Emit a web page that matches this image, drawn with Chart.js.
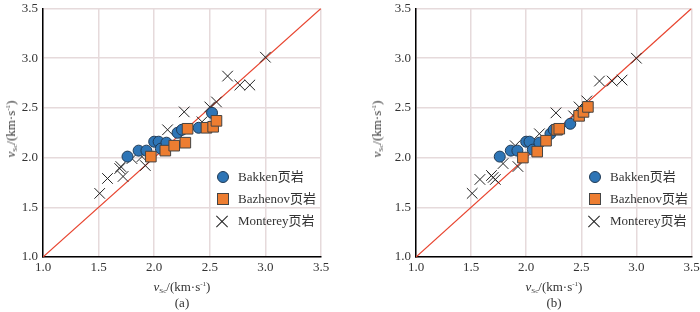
<!DOCTYPE html>
<html lang="zh">
<head>
<meta charset="UTF-8">
<script src="https://cdn.jsdelivr.net/npm/chart.js"></script>
<title>vS</title>
<style>
  body { margin: 0; background: #fff; }
  #wrap { position: relative; width: 700px; height: 312px; overflow: hidden;
          font-family: "Liberation Serif", "Noto Sans CJK SC", serif; color: #333; }
  .pane { position: absolute; top: 0; width: 350px; height: 312px; }
  .pane canvas { position: absolute; left: 0; top: 0; }
  .xt, .cap { position: absolute; font-size: 13px; white-space: nowrap; transform: translateX(-50%); }
  .yt { position: absolute; font-size: 13px; white-space: nowrap; transform: translate(-50%, -50%) rotate(-90deg); }
  sub { font-size: 7px; vertical-align: -2px; }
  sup { font-size: 7px; vertical-align: 5px; }
  i { font-style: italic; }
  .leg { position: absolute; font-size: 13px; }
  .leg div { position: relative; height: 22px; line-height: 22px; padding-left: 22px; }
  .mk { position: absolute; left: 0; top: 5px; }
  .c { width: 10px; height: 10px; border-radius: 50%; background: #2E75B6; border: 1px solid #203a55; left: 1px; }
  .s { width: 10px; height: 10px; background: #ED7D31; border: 1px solid #444; left: 1px; }
  .x { width: 12px; height: 12px; left: 0; top: 5px; }
  .x:before, .x:after { content: ""; position: absolute; left: -2px; top: 5.5px; width: 16px; height: 1px; background: #222; }
  .x:before { transform: rotate(45deg); }
  .x:after { transform: rotate(-45deg); }
</style>
</head>
<body>
<div id="wrap">
  <div class="pane" style="left:0">
    <canvas id="chartA" width="350" height="312"></canvas>
    <div class="yt" style="left:11px; top:129px"><i>v</i><sub>Sc</sub>/(km·s<sup>-1</sup>)</div>
    <div class="xt" style="left:182px; top:279px"><i>v</i><sub>Sc</sub>/(km·s<sup>-1</sup>)</div>
    <div class="cap" style="left:182px; top:295px">(a)</div>
    <div class="leg" style="left:216px; top:166px">
      <div><span class="mk c"></span>Bakken页岩</div>
      <div><span class="mk s"></span>Bazhenov页岩</div>
      <div><span class="mk x"></span>Monterey页岩</div>
    </div>
  </div>
  <div class="pane" style="left:350px">
    <canvas id="chartB" width="350" height="312"></canvas>
    <div class="yt" style="left:27px; top:129px"><i>v</i><sub>Sc</sub>/(km·s<sup>-1</sup>)</div>
    <div class="xt" style="left:204px; top:279px"><i>v</i><sub>Sc</sub>/(km·s<sup>-1</sup>)</div>
    <div class="cap" style="left:204px; top:295px">(b)</div>
    <div class="leg" style="left:238px; top:166px">
      <div><span class="mk c"></span>Bakken页岩</div>
      <div><span class="mk s"></span>Bazhenov页岩</div>
      <div><span class="mk x"></span>Monterey页岩</div>
    </div>
  </div>
</div>

<script>
// axis range and ticks
var axisMin = 1.0;
var axisMax = 3.5;
var tickStep = 0.5;
var seriesNames = ['Bakken页岩', 'Bazhenov页岩', 'Monterey页岩'];

// panel (a)
var aBakkenX = [1.76, 1.86, 1.93, 2.00, 2.04, 2.06, 2.11, 2.21, 2.25, 2.40, 2.52];
var aBakkenY = [2.01, 2.07, 2.07, 2.16, 2.16, 2.09, 2.15, 2.25, 2.28, 2.30, 2.45];
var aBazhenovX = [1.97, 2.10, 2.18, 2.28, 2.30, 2.47, 2.53, 2.56];
var aBazhenovY = [2.01, 2.07, 2.12, 2.15, 2.29, 2.30, 2.31, 2.37];
var aMontereyX = [1.51, 1.58, 1.69, 1.70, 1.72, 1.80, 1.89, 1.92, 2.12, 2.27, 2.43, 2.50, 2.56, 2.66, 2.77, 2.86, 3.00];
var aMontereyY = [1.64, 1.79, 1.89, 1.91, 1.81, 1.99, 2.01, 1.92, 2.28, 2.46, 2.36, 2.51, 2.56, 2.82, 2.73, 2.73, 3.01];

// panel (b)
var bBakkenX = [1.76, 1.86, 1.92, 2.00, 2.03, 2.06, 2.12, 2.22, 2.25, 2.40, 2.55];
var bBakkenY = [2.01, 2.07, 2.07, 2.16, 2.16, 2.08, 2.15, 2.24, 2.28, 2.34, 2.50];
var bBazhenovX = [1.97, 2.10, 2.18, 2.28, 2.30, 2.48, 2.52, 2.56];
var bBazhenovY = [2.00, 2.06, 2.17, 2.28, 2.29, 2.42, 2.46, 2.51];
var bMontereyX = [1.51, 1.58, 1.685, 1.70, 1.72, 1.79, 1.90, 1.925, 2.12, 2.27, 2.43, 2.48, 2.55, 2.665, 2.78, 2.87, 3.00];
var bMontereyY = [1.64, 1.78, 1.82, 1.80, 1.78, 1.94, 2.12, 1.91, 2.24, 2.45, 2.42, 2.51, 2.57, 2.77, 2.77, 2.78, 3.00];

function pts(xs, ys) {
    return xs.map(function (x, i) { return { x: x, y: ys[i] }; });
}

var tickFont = { family: '"Liberation Serif", serif', size: 13 };
var gridColor = '#E6DADB';

function makeChart(id, bx, by, zx, zy, mx, my, yWidth, padRight) {
    var ctx = document.getElementById(id).getContext('2d');
    return new Chart(ctx, {
        type: 'scatter',
        data: {
            datasets: [
                {
                    type: 'line',
                    label: '1:1',
                    data: [{ x: axisMin, y: axisMin }, { x: axisMax, y: axisMax }],
                    borderColor: '#E8442F',
                    borderWidth: 1.2,
                    pointRadius: 0,
                    order: 4
                },
                {
                    label: seriesNames[2],
                    data: pts(mx, my),
                    pointStyle: 'crossRot',
                    pointRadius: 7.5,
                    borderColor: '#222',
                    borderWidth: 1,
                    order: 3
                },
                {
                    label: seriesNames[0],
                    data: pts(bx, by),
                    pointStyle: 'circle',
                    pointRadius: 5.5,
                    backgroundColor: '#2E75B6',
                    borderColor: '#203a55',
                    borderWidth: 1,
                    order: 2
                },
                {
                    label: seriesNames[1],
                    data: pts(zx, zy),
                    pointStyle: 'rect',
                    pointRadius: 7.5,
                    backgroundColor: '#ED7D31',
                    borderColor: '#444',
                    borderWidth: 1,
                    order: 1
                }
            ]
        },
        options: {
            responsive: false,
            animation: false,
            layout: { padding: { top: 2, right: padRight, left: 0, bottom: 0 } },
            plugins: { legend: { display: false }, tooltip: { enabled: false } },
            scales: {
                x: {
                    type: 'linear',
                    min: axisMin, max: axisMax,
                    ticks: { stepSize: tickStep, color: '#333', font: tickFont, padding: 3,
                             callback: function (v) { return v.toFixed(1); } },
                    grid: { color: gridColor, lineWidth: 1.5, drawTicks: false },
                    border: { color: '#000', width: 1.5 },
                    afterFit: function (s) { s.height = 55; s.paddingLeft = 0; s.paddingRight = 0; }
                },
                y: {
                    type: 'linear',
                    min: axisMin, max: axisMax,
                    ticks: { stepSize: tickStep, color: '#333', font: tickFont, padding: 5,
                             callback: function (v) { return v.toFixed(1); } },
                    grid: { color: gridColor, lineWidth: 1.5, drawTicks: false },
                    border: { color: '#000', width: 1.5 },
                    afterFit: function (s) { s.width = yWidth; s.paddingTop = 0; s.paddingBottom = 0; }
                }
            }
        }
    });
}

var chartA = makeChart('chartA', aBakkenX, aBakkenY, aBazhenovX, aBazhenovY, aMontereyX, aMontereyY, 43, 29);
var chartB = makeChart('chartB', bBakkenX, bBakkenY, bBazhenovX, bBazhenovY, bMontereyX, bMontereyY, 66, 7);
</script>
</body>
</html>
